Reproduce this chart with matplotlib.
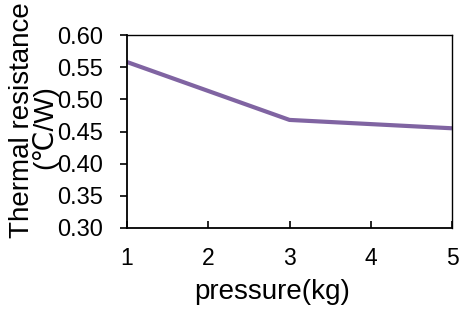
import matplotlib
matplotlib.use("Agg")
import matplotlib.pyplot as plt

plt.rcParams['font.family'] = ['Liberation Sans', 'DejaVu Sans']

pressure = [1, 3, 5]
resistance = [0.558, 0.468, 0.455]
xticks = [1, 2, 3, 4, 5]
yticks = [0.30, 0.35, 0.40, 0.45, 0.50, 0.55, 0.60]

fig = plt.figure(figsize=(4.6, 3.09), dpi=100)
ax = fig.add_axes([127/460, 1-228/309, (452-127)/460, (228-35)/309])
ax.plot(pressure, resistance, color='#8064A2', lw=3.0, solid_capstyle='butt')
ax.set_xlim(1, 5)
ax.set_ylim(0.30, 0.60)
ax.set_xticks(xticks)
ax.set_yticks(yticks)
ax.set_yticklabels([f"{v:.2f}" for v in yticks])
ax.tick_params(axis='x', direction='in', length=5, width=1.2, labelsize=16.5, pad=14)
ax.tick_params(axis='y', direction='out', length=5, width=1.2, labelsize=17, pad=12)
for s in ax.spines.values():
    s.set_linewidth(1.0)
ax.spines['left'].set_linewidth(1.3)
ax.spines['bottom'].set_linewidth(1.3)
fig.text(272/460, 1-292/309, 'pressure(kg)', fontsize=20, ha='center', va='center')
fig.text(22/460, 1-120/309, 'Thermal resistance', rotation=90, fontsize=20,
         ha='center', va='center')
fig.text(45/460, 1-127/309, '(℃/W)', rotation=90, fontsize=20,
         ha='center', va='center')
fig.savefig('out.png', dpi=100)
